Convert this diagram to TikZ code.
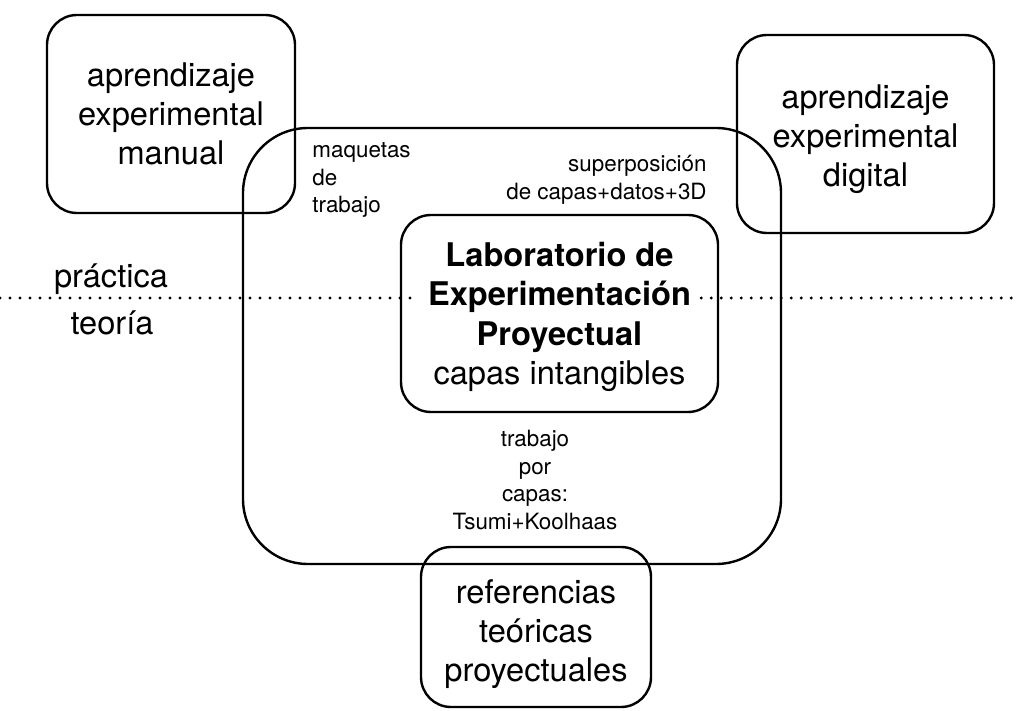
\documentclass[tikz,border=0pt]{standalone}
\usepackage{fontspec}
\setmainfont{TeX Gyre Heros}
\usetikzlibrary{calc}

\tikzset{
  caja/.style={draw, line width=1.2pt, rounded corners=#1, align=center, inner sep=0pt},
  caja/.default=15pt,
  grande/.style={font=\fontsize{16.3}{19.6}\selectfont, align=center},
  chico/.style={font=\fontsize{11.2}{13.9}\selectfont},
  puntos/.style={line width=1.6pt, dash pattern=on 0pt off 5pt, line cap=round}
}

\begin{document}
\begin{tikzpicture}[x=0.5pt, y=-0.5pt]
			%%%%% START %%%%%
			\useasboundingbox (0, 0) rectangle (1017, 711);
			
			% marcos
			\node[caja=32.5pt, minimum width=269pt, minimum height=218pt] (marco) at (512, 346) {};
			\node[caja, minimum width=158.5pt, minimum height=98.5pt] (labcaja) at (559.5, 313.5) {};
			\node[caja, minimum width=128.5pt, minimum height=99pt] (digitalcaja) at (865.5, 134) {};
			\node[caja, minimum width=115pt, minimum height=80pt] (refscaja) at (536, 627) {};
			
			\node[caja, grande, minimum width=124pt, minimum height=99pt] (manual) at (171, 114)
				{aprendizaje\\experimental\\manual};
			\node[grande] (digital) at (865.5, 139)
				{aprendizaje\\experimental\\digital};
			\node[grande] (refs) at (536, 634)
				{referencias\\teóricas\\proyectuales};
			
			% laboratorio
			\node[grande, inner sep=5pt] (lab) at (559.5, 317)
				{\textbf{Laboratorio de}\\\textbf{Experimentación}\\\textbf{Proyectual}\\capas intangibles};
			
			% practica / teoria
			\draw[puntos] (0, 298) -- (lab.west |- 0, 298);
			\draw[puntos] (lab.east |- 0, 298) -- (1017, 298);
			\node[grande] (practica) at (111, 279) {práctica};
			\node[grande] (teoria) at (112, 323) {teoría};
			
			% notas
			\node[chico, align=left, anchor=west, inner sep=0pt] (maquetas) at (312, 180)
				{maquetas\\de\\trabajo};
			\node[chico, align=right, anchor=east, inner sep=0pt] (superpos) at (707, 179.5)
				{superposición\\de capas+datos+3D};
			\node[chico, align=center] (capas) at (535, 480)
				{trabajo\\por\\capas:\\Tsumi+Koolhaas};
			
			%%%%% END %%%%%
\end{tikzpicture}
\end{document}
